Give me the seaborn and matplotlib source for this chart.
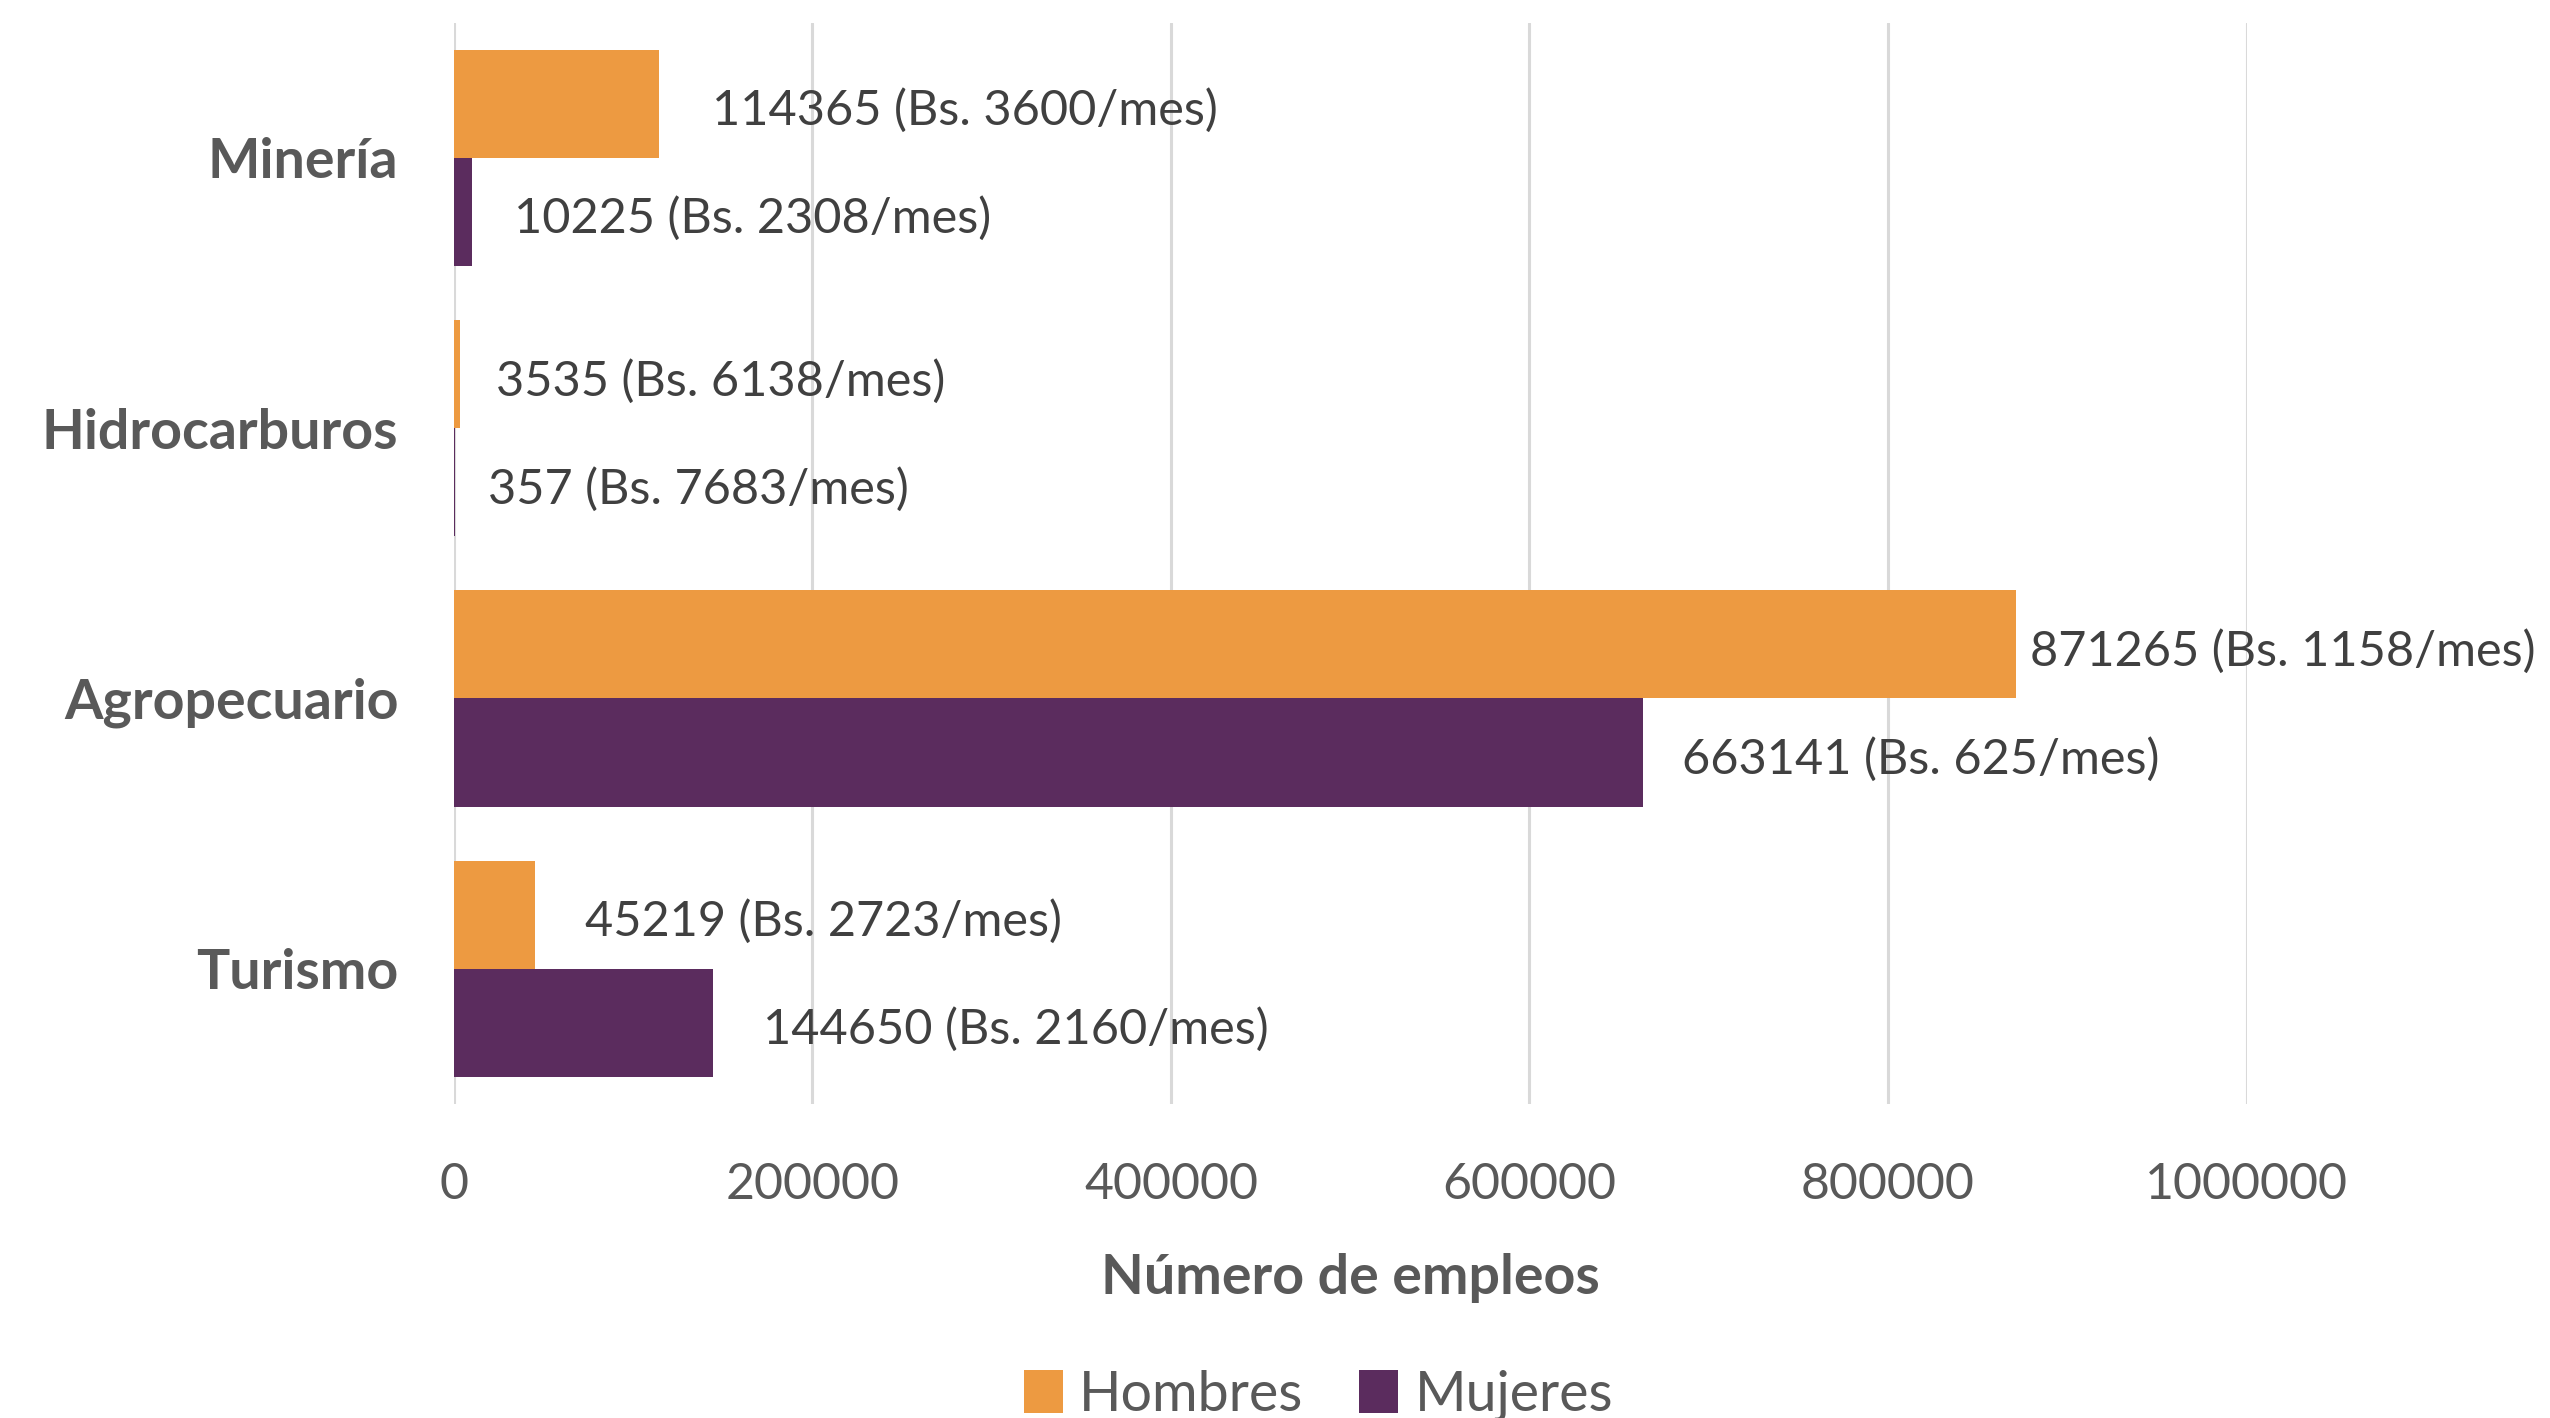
import matplotlib
matplotlib.use("Agg")
import matplotlib.pyplot as plt
import seaborn as sns
import pandas as pd

# values
sectores = ["Minería", "Hidrocarburos", "Agropecuario", "Turismo"]
hombres = [114365, 3535, 871265, 45219]
mujeres = [10225, 357, 663141, 144650]
salario_hombres = [3600, 6138, 1158, 2723]
salario_mujeres = [2308, 7683, 625, 2160]
ticks_x = [0, 200000, 400000, 600000, 800000, 1000000]

df = pd.DataFrame({
    "sector": sectores * 2,
    "sexo": ["Hombres"] * 4 + ["Mujeres"] * 4,
    "empleos": hombres + mujeres,
    "salario": salario_hombres + salario_mujeres,
})

sns.set_theme(style="white")
plt.rcParams["font.family"] = ["Lato", "DejaVu Sans"]

colores = {"Hombres": "#ED9A41", "Mujeres": "#5B2C5E"}

fig = plt.figure(figsize=(12.75, 7.09), dpi=200)
ax = fig.add_axes([0.178, 0.2215, 0.703, 0.7625])

sns.barplot(data=df, y="sector", x="empleos", hue="sexo", order=sectores,
            hue_order=["Hombres", "Mujeres"], palette=colores, orient="h",
            width=0.8, saturation=1, linewidth=0, ax=ax, legend=True)

# data labels: number of jobs plus monthly wage
label_pad = [[19, 15], [13, 12], [5, 14], [18, 18]]
for j, cont in enumerate(ax.containers):
    sub = df[df["sexo"] == ["Hombres", "Mujeres"][j]].reset_index(drop=True)
    for i, bar in enumerate(cont):
        txt = f"{sub.loc[i, 'empleos']} (Bs. {sub.loc[i, 'salario']}/mes)"
        ax.annotate(txt, (bar.get_width(), bar.get_y() + bar.get_height() / 2),
                    xytext=(label_pad[i][j], -2.5), textcoords="offset points",
                    ha="left", va="center", fontsize=17.5, color="#404040",
                    annotation_clip=False, clip_on=False)

ax.set_xlim(0, 1000000)
ax.set_xticks(ticks_x)
ax.set_xticklabels([str(t) for t in ticks_x])
ax.grid(axis="x", color="#D9D9D9", linewidth=1.1)
ax.grid(axis="y", visible=False)
ax.set_axisbelow(True)
for s in ax.spines.values():
    s.set_visible(False)

ax.tick_params(axis="x", length=0, pad=21, labelsize=18, labelcolor="#595959")
ax.tick_params(axis="y", length=0, pad=20, labelsize=20, labelcolor="#595959")
for lab in ax.get_yticklabels():
    lab.set_fontweight("bold")

ax.set_ylabel("")
ax.set_xlabel("Número de empleos", fontsize=20, fontweight="bold",
              color="#595959", labelpad=16)

handles, labels = ax.get_legend_handles_labels()
ax.legend_.remove()
fig.legend(handles, labels, loc="center", bbox_to_anchor=(0.517, 0.016), ncol=2,
           frameon=False, fontsize=20, labelcolor="#595959", handlelength=0.7,
           handleheight=0.8, handletextpad=0.3, columnspacing=1.0)

fig.savefig("out.png", dpi=200)
plt.close(fig)
